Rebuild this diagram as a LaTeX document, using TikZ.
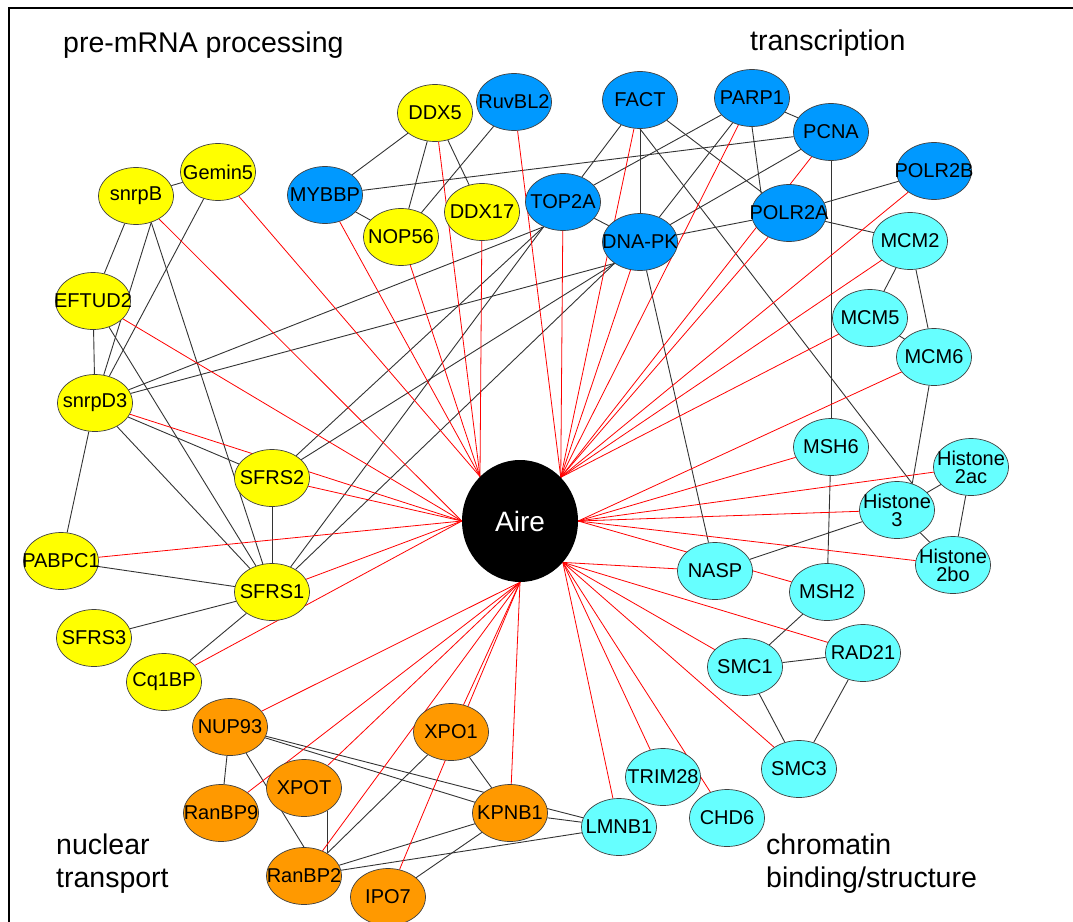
\documentclass[tikz,border=0pt]{standalone}
\usepackage{fontspec}
\setmainfont{Liberation Sans}
\usetikzlibrary{shapes.geometric}

\pgfdeclarelayer{edges}
\pgfsetlayers{edges,main}

\definecolor{geneYellow}{RGB}{255,255,0}
\definecolor{geneBlue}{RGB}{0,153,255}
\definecolor{geneCyan}{RGB}{102,255,255}
\definecolor{geneOrange}{RGB}{255,153,0}

\def\geneFontSize{\fontsize{20}{18}\selectfont}
\def\groupFontSize{\fontsize{28.5}{33}\selectfont}

\begin{document}
\begin{tikzpicture}[x=1pt,y=-1pt,
        gene/.style={ellipse,draw=black!75,line width=0.7pt,minimum width=75pt,minimum height=57pt,inner sep=0pt,
            label={[font=\geneFontSize,align=center,inner sep=0pt]center:{#1}}},
        link/.style={black!80,line width=0.9pt},
        hit/.style={red,line width=0.8pt},
        group/.style={font=\groupFontSize,align=left,anchor=west,inner sep=0pt}]

    \useasboundingbox (0,0) rectangle (1073,921);
    \draw [line width=2pt] (8.5,930) -- (8.5,7.5) -- (1080,7.5);

    \node [group] (premrna) at (63,45) {pre-mRNA processing};
    \node [group] (transcr) at (750,43) {transcription};
    \node [group] (nuctrans) at (56,864) {nuclear\\transport};
    \node [group] (chromatin) at (766,864) {chromatin\\binding/structure};

    \node [ellipse,fill=black,minimum width=116pt,minimum height=122pt,inner sep=0pt,
        text=white,font=\fontsize{28}{30}\selectfont] (aire) at (520,521) {Aire};

    % pre-mRNA processing
    \node [gene=snrpB,fill=geneYellow] (snrpb) at (136,196) {};
    \node [gene=Gemin5,fill=geneYellow] (gemin5) at (218,172) {};
    \node [gene=EFTUD2,fill=geneYellow] (eftud2) at (93,301) {};
    \node [gene=snrpD3,fill=geneYellow] (snrpd3) at (95,403) {};
    \node [gene=SFRS2,fill=geneYellow] (sfrs2) at (272,478) {};
    \node [gene=PABPC1,fill=geneYellow] (pabpc1) at (61,561) {};
    \node [gene=SFRS1,fill=geneYellow] (sfrs1) at (272,592) {};
    \node [gene=SFRS3,fill=geneYellow] (sfrs3) at (94,638) {};
    \node [gene=Cq1BP,fill=geneYellow] (cq1bp) at (164,682) {};
    \node [gene=DDX5,fill=geneYellow] (ddx5) at (435,113) {};
    \node [gene=NOP56,fill=geneYellow] (nop56) at (401,237) {};
    \node [gene=DDX17,fill=geneYellow] (ddx17) at (482,212) {};

    % transcription
    \node [gene=MYBBP,fill=geneBlue] (mybbp) at (325,195) {};
    \node [gene=RuvBL2,fill=geneBlue] (ruvbl2) at (514,102) {};
    \node [gene=FACT,fill=geneBlue] (fact) at (640,100) {};
    \node [gene=PARP1,fill=geneBlue] (parp1) at (752,98) {};
    \node [gene=PCNA,fill=geneBlue] (pcna) at (831,132) {};
    \node [gene=POLR2B,fill=geneBlue] (polr2b) at (934,171) {};
    \node [gene=TOP2A,fill=geneBlue] (top2a) at (563,202) {};
    \node [gene=DNA-PK,fill=geneBlue] (dnapk) at (640,242) {};
    \node [gene=POLR2A,fill=geneBlue] (polr2a) at (789,213) {};

    % chromatin binding/structure
    \node [gene=MCM2,fill=geneCyan] (mcm2) at (910,241) {};
    \node [gene=MCM5,fill=geneCyan] (mcm5) at (870,318) {};
    \node [gene=MCM6,fill=geneCyan] (mcm6) at (934,357) {};
    \node [gene=MSH6,fill=geneCyan] (msh6) at (831,447) {};
    \node [gene={Histone\\2ac},fill=geneCyan] (histac) at (971,467) {};
    \node [gene={Histone\\3},fill=geneCyan] (hist3) at (897,510) {};
    \node [gene={Histone\\2bo},fill=geneCyan] (histbo) at (953,565) {};
    \node [gene=NASP,fill=geneCyan] (nasp) at (715,571) {};
    \node [gene=MSH2,fill=geneCyan] (msh2) at (827,592) {};
    \node [gene=RAD21,fill=geneCyan] (rad21) at (863,653) {};
    \node [gene=SMC1,fill=geneCyan] (smc1) at (745,667) {};
    \node [gene=SMC3,fill=geneCyan] (smc3) at (799,769) {};
    \node [gene=TRIM28,fill=geneCyan] (trim28) at (663,777) {};
    \node [gene=CHD6,fill=geneCyan] (chd6) at (727,818) {};
    \node [gene=LMNB1,fill=geneCyan] (lmnb1) at (619,827) {};

    % nuclear transport
    \node [gene=NUP93,fill=geneOrange] (nup93) at (230,727) {};
    \node [gene=XPO1,fill=geneOrange] (xpo1) at (451,732) {};
    \node [gene=XPOT,fill=geneOrange] (xpot) at (304,788) {};
    \node [gene=RanBP9,fill=geneOrange] (ranbp9) at (221,813) {};
    \node [gene=KPNB1,fill=geneOrange] (kpnb1) at (510,813) {};
    \node [gene=RanBP2,fill=geneOrange] (ranbp2) at (304,876) {};
    \node [gene=IPO7,fill=geneOrange] (ipo7) at (388,897) {};

    \begin{pgfonlayer}{edges}
        \foreach \a/\b in {snrpb/gemin5,snrpb/eftud2,snrpb.300/snrpd3,snrpb.300/sfrs1,gemin5/snrpd3,eftud2/snrpd3,
                eftud2/sfrs1,snrpd3/top2a.232,snrpd3/dnapk.220,snrpd3/sfrs2,snrpd3/sfrs1,snrpd3/pabpc1,
                sfrs2/sfrs1,sfrs2/top2a.232,sfrs2/dnapk.220,sfrs1/top2a.232,sfrs1/dnapk.220,pabpc1/sfrs1,
                sfrs3/sfrs1,cq1bp/sfrs1}{%
                \draw [link] (\a) -- (\b);
            }

        \foreach \a/\b in {ddx5/mybbp,ddx5/nop56,ddx5/ddx17,ruvbl2/nop56,mybbp/nop56,mybbp/pcna,
                fact/top2a,fact/dnapk,fact/polr2a,fact.south/hist3.60,parp1/top2a,parp1/dnapk,
                parp1.south/polr2a.145,parp1/pcna,pcna/dnapk,pcna/msh6,top2a/dnapk,dnapk/polr2a,
                dnapk/nasp,polr2a/polr2b,polr2a/mcm2}{%
                \draw [link] (\a) -- (\b);
            }

        \foreach \a/\b in {mcm2/mcm5,mcm2/mcm6,mcm5/mcm6,mcm6/hist3.60,hist3/histac,hist3/histbo,
                histac/histbo,hist3/nasp,msh6/msh2,msh2/smc1,smc1/rad21,smc1/smc3,rad21/smc3}{%
                \draw [link] (\a) -- (\b);
            }

        \foreach \a/\b in {nup93/ranbp9,nup93/ranbp2.north,nup93/kpnb1,nup93/lmnb1,xpot.316/ranbp2.44,
                xpo1/ranbp2,xpo1/kpnb1,ranbp2/kpnb1,ranbp2/lmnb1,kpnb1/lmnb1,ipo7/kpnb1}{%
                \draw [link] (\a) -- (\b);
            }

        \foreach \n in {snrpb,eftud2,snrpd3,sfrs2,pabpc1,sfrs1,cq1bp}
            \draw [hit] (\n) -- (aire.west);
        \foreach \n in {gemin5,mybbp,nop56,ddx5,ddx17}
            \draw [hit] (\n) -- (aire.132);
        \foreach \n in {ruvbl2,top2a,fact,parp1,dnapk,pcna,polr2a,polr2b,mcm2,mcm5}
            \draw [hit] (\n) -- (aire.47);
        \foreach \n in {mcm6,msh6,histac,hist3,histbo,msh2}
            \draw [hit] (\n) -- (aire.east);
        \foreach \n in {nasp,rad21,smc1,smc3,chd6,trim28,lmnb1}
            \draw [hit] (\n) -- (aire.316);
        \foreach \n in {nup93,ranbp9,xpot,ranbp2,xpo1,ipo7,kpnb1}
            \draw [hit] (\n) -- (aire.south);
    \end{pgfonlayer}

\end{tikzpicture}
\end{document}
